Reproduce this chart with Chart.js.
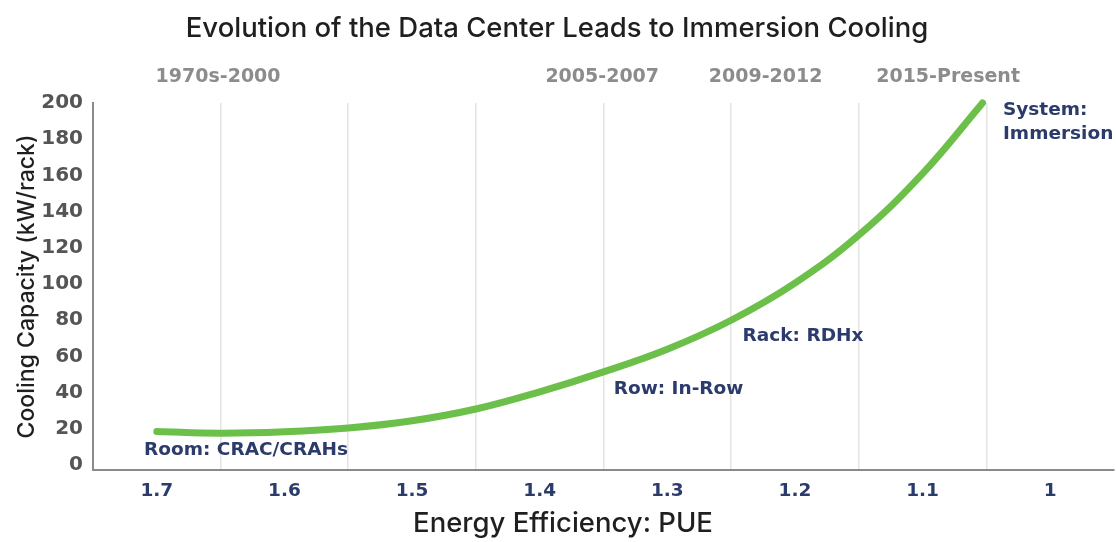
<!DOCTYPE html>
<html>
<head>
<meta charset="utf-8">
<script src="https://cdn.jsdelivr.net/npm/chart.js@4/dist/chart.umd.min.js"></script>
<style>
  html, body { margin: 0; padding: 0; background: #ffffff; }
  #wrap { width: 1116px; height: 542px; position: relative; }
</style>
</head>
<body>
<div id="wrap"><canvas id="c" width="1116" height="542"></canvas></div>
<script>
// ---- data ----
const chartTitle = 'Evolution of the Data Center Leads to Immersion Cooling';
const xAxisTitle = 'Energy Efficiency: PUE';
const yAxisTitle = 'Cooling Capacity (kW/rack)';

const pue      = [1.70, 1.65, 1.60, 1.55, 1.50, 1.45, 1.40, 1.35, 1.30, 1.25, 1.20, 1.15, 1.10, 1.053];
const capacity = [18.5, 17.6, 18.4, 20.5, 24.5, 31,   40.5, 51.5, 64,   80,   100.5, 127, 161, 200];

const xTickValues = [1.7, 1.6, 1.5, 1.4, 1.3, 1.2, 1.1, 1.0];
const xTickLabels = ['1.7', '1.6', '1.5', '1.4', '1.3', '1.2', '1.1', '1'];
const xGridValues = [1.65, 1.55, 1.45, 1.35, 1.25, 1.15, 1.05];
const yTickValues = [0, 20, 40, 60, 80, 100, 120, 140, 160, 180, 200];

const periodLabels = ['1970s-2000', '2005-2007', '2009-2012', '2015-Present'];
const periodPue    = [1.652, 1.351, 1.223, 1.080];

const stageLabels = [['Room: CRAC/CRAHs'], ['Row: In-Row'], ['Rack: RDHx'], ['System:', 'Immersion']];
const stagePue    = [1.710, 1.342, 1.241, 1.037];
const stageCap    = [8.3, 42, 71, 196];

// ---- chart ----
const NAVY = '#2b3b6b';
const AXIS = '#8a8a8a';

const stagePlugin = {
  id: 'stageText',
  afterDatasetsDraw(chart) {
    const ctx = chart.ctx, xs = chart.scales.x, ys = chart.scales.y;
    ctx.save();
    ctx.fillStyle = NAVY;
    ctx.font = 'bold 18.5px "DejaVu Sans"';
    ctx.textAlign = 'left';
    ctx.textBaseline = 'middle';
    stageLabels.forEach((lines, i) => {
      const px = xs.getPixelForValue(stagePue[i]);
      const py = ys.getPixelForValue(stageCap[i]);
      lines.forEach((t, j) => ctx.fillText(t, px, py + j * 24));
    });
    // x axis title
    ctx.fillStyle = '#1f1f1f';
    ctx.font = '500 27.5px Inter';
    ctx.textAlign = 'center';
    ctx.textBaseline = 'middle';
    ctx.fillText(xAxisTitle, chart.width / 2 + 5, 524);
    ctx.restore();
  }
};

new Chart(document.getElementById('c'), {
  type: 'line',
  data: {
    datasets: [{
      data: pue.map((p, i) => ({ x: p, y: capacity[i] })),
      borderColor: '#6cc04a',
      borderWidth: 7,
      borderCapStyle: 'round',
      borderJoinStyle: 'round',
      pointRadius: 0,
      tension: 0.4,
      fill: false,
      clip: false
    }]
  },
  options: {
    responsive: false,
    animation: false,
    layout: { padding: { left: 0, right: 2, top: 0, bottom: 38 } },
    plugins: {
      legend: { display: false },
      tooltip: { enabled: false },
      title: {
        display: true,
        text: chartTitle,
        color: '#1f1f1f',
        font: { family: 'Inter', size: 27.5, weight: '500' },
        padding: { top: 12, bottom: 8 }
      }
    },
    scales: {
      x: {
        type: 'linear',
        reverse: true,
        min: 0.95,
        max: 1.75,
        afterBuildTicks(scale) {
          const vals = xTickValues.concat(xGridValues).sort((a, b) => b - a);
          scale.ticks = vals.map(v => ({ value: v }));
        },
        afterFit(scale) { scale.height = 34; },
        ticks: {
          autoSkip: false,
          maxRotation: 0,
          padding: 10,
          color: NAVY,
          font: { family: 'DejaVu Sans', size: 18.5, weight: 'bold' },
          callback(v) {
            const k = xTickValues.findIndex(t => Math.abs(t - v) < 1e-6);
            return k >= 0 ? xTickLabels[k] : '';
          }
        },
        grid: {
          drawTicks: false,
          lineWidth: 1.5,
          color(ctx) {
            const v = ctx.tick ? ctx.tick.value : 0;
            return xGridValues.some(g => Math.abs(g - v) < 1e-6) ? '#e4e4e4' : 'rgba(0,0,0,0)';
          }
        },
        border: { display: true, color: AXIS, width: 2 }
      },
      xTop: {
        type: 'linear',
        position: 'top',
        reverse: true,
        min: 0.95,
        max: 1.75,
        afterBuildTicks(scale) { scale.ticks = periodPue.map(v => ({ value: v })); },
        afterFit(scale) { scale.height = 50; },
        ticks: {
          autoSkip: false,
          maxRotation: 0,
          padding: 15,
          color: '#8c8c8c',
          font: { family: 'DejaVu Sans', size: 19, weight: 'bold' },
          callback(v) {
            const k = periodPue.findIndex(t => Math.abs(t - v) < 1e-6);
            return k >= 0 ? periodLabels[k] : '';
          }
        },
        grid: { display: false, drawTicks: false },
        border: { display: false }
      },
      y: {
        type: 'linear',
        min: -2.7,
        max: 200,
        afterBuildTicks(scale) { scale.ticks = yTickValues.map(v => ({ value: v })); },
        afterFit(scale) { scale.width = 93; },
        ticks: {
          padding: 10,
          color: '#555555',
          font: { family: 'DejaVu Sans', size: 20, weight: 'bold' }
        },
        grid: { display: false, drawTicks: false },
        border: { display: true, color: AXIS, width: 2 },
        title: {
          display: true,
          text: yAxisTitle,
          color: '#1f1f1f',
          font: { family: 'Inter', size: 23, weight: '500' },
          padding: { top: 13, bottom: 0 }
        }
      }
    }
  },
  plugins: [stagePlugin]
});
</script>
</body>
</html>
